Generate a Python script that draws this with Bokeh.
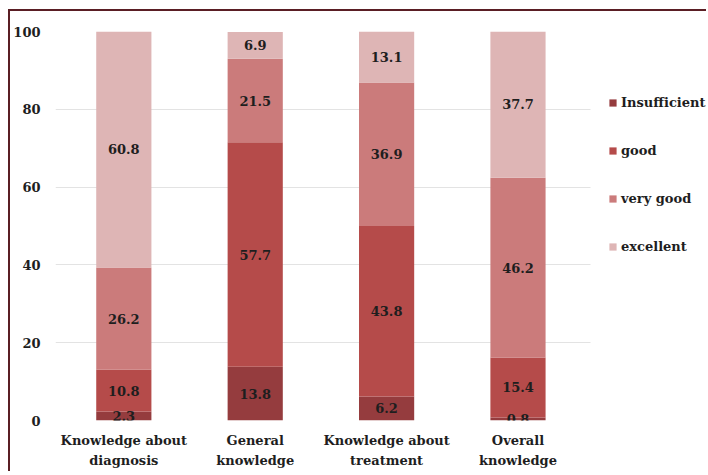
from bokeh.plotting import figure
from bokeh.models import ColumnDataSource, Legend, LegendItem
from bokeh.embed import file_html
from bokeh.resources import INLINE
from bokeh.core.properties import value

categories = ["Knowledge about\ndiagnosis", "General\nknowledge",
              "Knowledge about\ntreatment", "Overall\nknowledge"]
levels = ["Insufficient", "good", "very good", "excellent"]
insufficient = [2.3, 13.8, 6.2, 0.8]
good = [10.8, 57.7, 43.8, 15.4]
very_good = [26.2, 21.5, 36.9, 46.2]
excellent = [60.8, 6.9, 13.1, 37.7]
colors = ["#953c3e", "#b54b4a", "#cb7b7b", "#deb5b5"]
y_ticks = [0, 20, 40, 60, 80, 100]

FONT = "DejaVu Serif"

series = [insufficient, good, very_good, excellent]
xpos = list(range(len(categories)))
data = {"x": xpos}
for name, vals in zip(levels, series):
    data[name] = vals
src = ColumnDataSource(data)

p = figure(x_range=(-0.52, 4.45), y_range=(0, 100), width=698, height=462,
           output_backend="svg", toolbar_location=None,
           min_border_left=45, min_border_right=0, min_border_top=20,
           min_border_bottom=53)
p.styles = {"border-left": "2px solid #5a1e24", "border-top": "2px solid #5a1e24",
            "margin-left": "8px", "margin-top": "9px"}
p.outline_line_color = None

rs = p.vbar_stack(levels, x="x", width=0.42, color=colors, source=src,
                  line_color=None)

# labels at segment centers
lab_x, lab_y, lab_t = [], [], []
for i in xpos:
    base = 0.0
    for vals in series:
        v = vals[i]
        lab_x.append(i)
        lab_y.append(min(base + v / 2, 100))
        lab_t.append(f"{v:.1f}")
        base += v
p.text(x=lab_x, y=lab_y, text=lab_t, text_align="center", text_baseline="middle",
       text_font=value(FONT), text_font_style="bold", text_font_size="13px",
       text_color="#1e1e1e")

legend = Legend(items=[LegendItem(label=l, renderers=[r]) for l, r in zip(levels, rs)],
                location=(553, 166), padding=0, margin=0, spacing=33,
                glyph_width=9, glyph_height=9, label_standoff=4,
                label_text_font=FONT, label_text_font_style="bold",
                label_text_font_size="13px", label_text_color="#1e1e1e",
                border_line_color=None, background_fill_alpha=0)
p.add_layout(legend, "center")

p.xaxis.ticker = xpos
p.xaxis.major_label_overrides = {i: c for i, c in zip(xpos, categories)}
p.yaxis.ticker = y_ticks
for ax in (p.xaxis, p.yaxis):
    ax.axis_line_color = None
    ax.major_tick_line_color = None
    ax.minor_tick_line_color = None
    ax.major_tick_out = 0
    ax.minor_tick_out = 0
    ax.major_label_text_font = FONT
    ax.major_label_text_font_style = "bold"
    ax.major_label_text_font_size = "13px"
    ax.major_label_text_color = "#1e1e1e"
p.yaxis.major_label_standoff = 15
p.xaxis.major_label_standoff = 12
p.xaxis.major_label_text_line_height = 1.35
p.xgrid.grid_line_color = None
p.ygrid.grid_line_color = "#e3e3e3"
p.ygrid.grid_line_width = 1.2
try:
    p.ygrid.cross_bounds = (-0.52, 3.55)
except Exception:
    pass

open("out.html", "w").write(file_html(p, INLINE))
